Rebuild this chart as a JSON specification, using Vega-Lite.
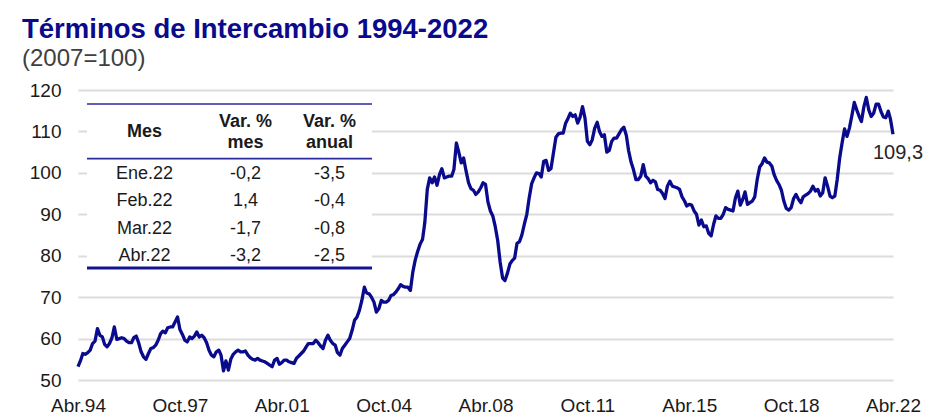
{
"$schema": "https://vega.github.io/schema/vega-lite/v6.json",
"width": 815,
"height": 290,
"autosize": "none",
"padding": {"left": 78, "top": 90, "right": 51, "bottom": 39},
"background": "white",
"config": {
  "view": {"stroke": null},
  "font": "Liberation Sans",
  "locale": {"number": {"decimal": ",", "thousands": ".", "grouping": [3], "currency": ["", " €"], "minus": "-"}}
},
"title": {
  "text": "Términos de Intercambio 1994-2022",
  "subtitle": "(2007=100)",
  "anchor": "start", "frame": "group", "dx": -56, "offset": 10,
  "font": "Liberation Sans", "fontSize": 27.5, "fontWeight": "bold", "color": "#0a0a8c",
  "subtitleFont": "Liberation Sans", "subtitleFontSize": 24, "subtitleColor": "#404040", "subtitlePadding": 4
},
"datasets": {
  "serie": [
{"fecha":"1994-04","valor":53.2},{"fecha":"1994-05","valor":54.6},{"fecha":"1994-06","valor":56.4},{"fecha":"1994-07","valor":56.2},{"fecha":"1994-08","valor":56.6},{"fecha":"1994-09","valor":57.2},{"fecha":"1994-10","valor":58.8},{"fecha":"1994-11","valor":59.4},{"fecha":"1994-12","valor":62.4},
{"fecha":"1995-01","valor":60.8},{"fecha":"1995-02","valor":60.4},{"fecha":"1995-03","valor":58.6},{"fecha":"1995-04","valor":58.0},{"fecha":"1995-05","valor":58.8},{"fecha":"1995-06","valor":60.2},{"fecha":"1995-07","valor":62.8},{"fecha":"1995-08","valor":59.8},{"fecha":"1995-09","valor":60.0},{"fecha":"1995-10","valor":60.2},{"fecha":"1995-11","valor":60.0},{"fecha":"1995-12","valor":59.4},
{"fecha":"1996-01","valor":59.0},{"fecha":"1996-02","valor":59.0},{"fecha":"1996-03","valor":60.2},{"fecha":"1996-04","valor":60.6},{"fecha":"1996-05","valor":59.0},{"fecha":"1996-06","valor":56.8},{"fecha":"1996-07","valor":55.6},{"fecha":"1996-08","valor":55.0},{"fecha":"1996-09","valor":56.4},{"fecha":"1996-10","valor":57.6},{"fecha":"1996-11","valor":57.8},{"fecha":"1996-12","valor":58.4},
{"fecha":"1997-01","valor":59.6},{"fecha":"1997-02","valor":61.2},{"fecha":"1997-03","valor":61.8},{"fecha":"1997-04","valor":61.4},{"fecha":"1997-05","valor":62.6},{"fecha":"1997-06","valor":62.8},{"fecha":"1997-07","valor":62.8},{"fecha":"1997-08","valor":64.0},{"fecha":"1997-09","valor":65.2},{"fecha":"1997-10","valor":62.2},{"fecha":"1997-11","valor":61.0},{"fecha":"1997-12","valor":59.6},
{"fecha":"1998-01","valor":59.2},{"fecha":"1998-02","valor":60.4},{"fecha":"1998-03","valor":60.0},{"fecha":"1998-04","valor":60.6},{"fecha":"1998-05","valor":61.6},{"fecha":"1998-06","valor":60.4},{"fecha":"1998-07","valor":60.8},{"fecha":"1998-08","valor":60.2},{"fecha":"1998-09","valor":59.0},{"fecha":"1998-10","valor":57.2},{"fecha":"1998-11","valor":56.0},{"fecha":"1998-12","valor":55.6},
{"fecha":"1999-01","valor":56.8},{"fecha":"1999-02","valor":57.2},{"fecha":"1999-03","valor":56.0},{"fecha":"1999-04","valor":52.2},{"fecha":"1999-05","valor":54.6},{"fecha":"1999-06","valor":52.4},{"fecha":"1999-07","valor":55.0},{"fecha":"1999-08","valor":56.2},{"fecha":"1999-09","valor":56.8},{"fecha":"1999-10","valor":57.2},{"fecha":"1999-11","valor":56.8},{"fecha":"1999-12","valor":56.8},
{"fecha":"2000-01","valor":57.0},{"fecha":"2000-02","valor":56.0},{"fecha":"2000-03","valor":55.4},{"fecha":"2000-04","valor":55.0},{"fecha":"2000-05","valor":54.8},{"fecha":"2000-06","valor":55.2},{"fecha":"2000-07","valor":54.8},{"fecha":"2000-08","valor":54.6},{"fecha":"2000-09","valor":54.4},{"fecha":"2000-10","valor":54.0},{"fecha":"2000-11","valor":53.6},{"fecha":"2000-12","valor":53.2},
{"fecha":"2001-01","valor":54.8},{"fecha":"2001-02","valor":55.2},{"fecha":"2001-03","valor":53.8},{"fecha":"2001-04","valor":54.2},{"fecha":"2001-05","valor":54.8},{"fecha":"2001-06","valor":54.8},{"fecha":"2001-07","valor":54.4},{"fecha":"2001-08","valor":54.2},{"fecha":"2001-09","valor":54.0},{"fecha":"2001-10","valor":55.2},{"fecha":"2001-11","valor":55.8},{"fecha":"2001-12","valor":56.4},
{"fecha":"2002-01","valor":57.0},{"fecha":"2002-02","valor":58.0},{"fecha":"2002-03","valor":58.8},{"fecha":"2002-04","valor":58.8},{"fecha":"2002-05","valor":58.8},{"fecha":"2002-06","valor":59.6},{"fecha":"2002-07","valor":59.0},{"fecha":"2002-08","valor":58.2},{"fecha":"2002-09","valor":57.6},{"fecha":"2002-10","valor":59.6},{"fecha":"2002-11","valor":60.8},{"fecha":"2002-12","valor":59.6},
{"fecha":"2003-01","valor":58.8},{"fecha":"2003-02","valor":58.4},{"fecha":"2003-03","valor":56.6},{"fecha":"2003-04","valor":56.0},{"fecha":"2003-05","valor":57.6},{"fecha":"2003-06","valor":58.4},{"fecha":"2003-07","valor":59.2},{"fecha":"2003-08","valor":60.0},{"fecha":"2003-09","valor":62.0},{"fecha":"2003-10","valor":64.4},{"fecha":"2003-11","valor":65.2},{"fecha":"2003-12","valor":66.8},
{"fecha":"2004-01","valor":69.2},{"fecha":"2004-02","valor":72.4},{"fecha":"2004-03","valor":71.0},{"fecha":"2004-04","valor":70.8},{"fecha":"2004-05","valor":70.0},{"fecha":"2004-06","valor":68.8},{"fecha":"2004-07","valor":66.4},{"fecha":"2004-08","valor":67.2},{"fecha":"2004-09","valor":69.2},{"fecha":"2004-10","valor":68.8},{"fecha":"2004-11","valor":68.8},{"fecha":"2004-12","valor":69.2},
{"fecha":"2005-01","valor":70.4},{"fecha":"2005-02","valor":70.6},{"fecha":"2005-03","valor":71.2},{"fecha":"2005-04","valor":72.0},{"fecha":"2005-05","valor":73.0},{"fecha":"2005-06","valor":72.6},{"fecha":"2005-07","valor":72.4},{"fecha":"2005-08","valor":72.4},{"fecha":"2005-09","valor":71.6},{"fecha":"2005-10","valor":76.0},{"fecha":"2005-11","valor":79.0},{"fecha":"2005-12","valor":81.0},
{"fecha":"2006-01","valor":82.8},{"fecha":"2006-02","valor":84.0},{"fecha":"2006-03","valor":88.0},{"fecha":"2006-04","valor":96.0},{"fecha":"2006-05","valor":98.8},{"fecha":"2006-06","valor":97.6},{"fecha":"2006-07","valor":99.0},{"fecha":"2006-08","valor":97.0},{"fecha":"2006-09","valor":99.6},{"fecha":"2006-10","valor":101.0},{"fecha":"2006-11","valor":98.8},{"fecha":"2006-12","valor":99.0},
{"fecha":"2007-01","valor":99.2},{"fecha":"2007-02","valor":99.2},{"fecha":"2007-03","valor":100.8},{"fecha":"2007-04","valor":107.2},{"fecha":"2007-05","valor":105.0},{"fecha":"2007-06","valor":102.4},{"fecha":"2007-07","valor":103.6},{"fecha":"2007-08","valor":100.4},{"fecha":"2007-09","valor":97.6},{"fecha":"2007-10","valor":96.2},{"fecha":"2007-11","valor":95.8},{"fecha":"2007-12","valor":94.8},
{"fecha":"2008-01","valor":95.4},{"fecha":"2008-02","valor":96.4},{"fecha":"2008-03","valor":97.6},{"fecha":"2008-04","valor":97.2},{"fecha":"2008-05","valor":93.0},{"fecha":"2008-06","valor":90.8},{"fecha":"2008-07","valor":89.6},{"fecha":"2008-08","valor":87.0},{"fecha":"2008-09","valor":83.6},{"fecha":"2008-10","valor":78.5},{"fecha":"2008-11","valor":74.6},{"fecha":"2008-12","valor":74.0},
{"fecha":"2009-01","valor":75.8},{"fecha":"2009-02","valor":78.0},{"fecha":"2009-03","valor":78.8},{"fecha":"2009-04","valor":79.4},{"fecha":"2009-05","valor":83.0},{"fecha":"2009-06","valor":83.4},{"fecha":"2009-07","valor":85.0},{"fecha":"2009-08","valor":87.6},{"fecha":"2009-09","valor":90.0},{"fecha":"2009-10","valor":94.0},{"fecha":"2009-11","valor":97.4},{"fecha":"2009-12","valor":98.8},
{"fecha":"2010-01","valor":100.0},{"fecha":"2010-02","valor":99.8},{"fecha":"2010-03","valor":99.0},{"fecha":"2010-04","valor":102.8},{"fecha":"2010-05","valor":103.0},{"fecha":"2010-06","valor":100.6},{"fecha":"2010-07","valor":101.0},{"fecha":"2010-08","valor":104.8},{"fecha":"2010-09","valor":108.6},{"fecha":"2010-10","valor":109.4},{"fecha":"2010-11","valor":109.6},{"fecha":"2010-12","valor":109.6},
{"fecha":"2011-01","valor":112.0},{"fecha":"2011-02","valor":113.2},{"fecha":"2011-03","valor":114.4},{"fecha":"2011-04","valor":113.6},{"fecha":"2011-05","valor":114.0},{"fecha":"2011-06","valor":112.0},{"fecha":"2011-07","valor":113.4},{"fecha":"2011-08","valor":116.0},{"fecha":"2011-09","valor":113.2},{"fecha":"2011-10","valor":107.6},{"fecha":"2011-11","valor":106.8},{"fecha":"2011-12","valor":108.0},
{"fecha":"2012-01","valor":110.8},{"fecha":"2012-02","valor":112.2},{"fecha":"2012-03","valor":110.0},{"fecha":"2012-04","valor":108.8},{"fecha":"2012-05","valor":109.2},{"fecha":"2012-06","valor":105.0},{"fecha":"2012-07","valor":105.4},{"fecha":"2012-08","valor":107.6},{"fecha":"2012-09","valor":108.4},{"fecha":"2012-10","valor":108.4},{"fecha":"2012-11","valor":109.4},{"fecha":"2012-12","valor":110.4},
{"fecha":"2013-01","valor":111.0},{"fecha":"2013-02","valor":109.0},{"fecha":"2013-03","valor":105.4},{"fecha":"2013-04","valor":102.6},{"fecha":"2013-05","valor":100.8},{"fecha":"2013-06","valor":98.4},{"fecha":"2013-07","valor":98.4},{"fecha":"2013-08","valor":99.2},{"fecha":"2013-09","valor":102.0},{"fecha":"2013-10","valor":99.2},{"fecha":"2013-11","valor":98.6},{"fecha":"2013-12","valor":97.6},
{"fecha":"2014-01","valor":98.2},{"fecha":"2014-02","valor":97.8},{"fecha":"2014-03","valor":96.0},{"fecha":"2014-04","valor":95.8},{"fecha":"2014-05","valor":95.0},{"fecha":"2014-06","valor":93.8},{"fecha":"2014-07","valor":96.8},{"fecha":"2014-08","valor":98.0},{"fecha":"2014-09","valor":96.8},{"fecha":"2014-10","valor":96.6},{"fecha":"2014-11","valor":96.4},{"fecha":"2014-12","valor":96.0},
{"fecha":"2015-01","valor":94.2},{"fecha":"2015-02","valor":93.2},{"fecha":"2015-03","valor":92.0},{"fecha":"2015-04","valor":92.4},{"fecha":"2015-05","valor":92.2},{"fecha":"2015-06","valor":90.8},{"fecha":"2015-07","valor":90.0},{"fecha":"2015-08","valor":87.4},{"fecha":"2015-09","valor":88.6},{"fecha":"2015-10","valor":87.0},{"fecha":"2015-11","valor":87.2},{"fecha":"2015-12","valor":85.4},
{"fecha":"2016-01","valor":84.8},{"fecha":"2016-02","valor":87.6},{"fecha":"2016-03","valor":89.6},{"fecha":"2016-04","valor":89.0},{"fecha":"2016-05","valor":89.0},{"fecha":"2016-06","valor":90.0},{"fecha":"2016-07","valor":91.6},{"fecha":"2016-08","valor":91.2},{"fecha":"2016-09","valor":91.0},{"fecha":"2016-10","valor":90.8},{"fecha":"2016-11","valor":94.0},{"fecha":"2016-12","valor":95.6},
{"fecha":"2017-01","valor":92.2},{"fecha":"2017-02","valor":93.6},{"fecha":"2017-03","valor":95.4},{"fecha":"2017-04","valor":92.4},{"fecha":"2017-05","valor":92.8},{"fecha":"2017-06","valor":93.2},{"fecha":"2017-07","valor":94.2},{"fecha":"2017-08","valor":98.4},{"fecha":"2017-09","valor":101.4},{"fecha":"2017-10","valor":102.2},{"fecha":"2017-11","valor":103.6},{"fecha":"2017-12","valor":102.6},
{"fecha":"2018-01","valor":102.4},{"fecha":"2018-02","valor":101.6},{"fecha":"2018-03","valor":99.6},{"fecha":"2018-04","valor":98.2},{"fecha":"2018-05","valor":97.2},{"fecha":"2018-06","valor":95.8},{"fecha":"2018-07","valor":93.2},{"fecha":"2018-08","valor":91.4},{"fecha":"2018-09","valor":91.0},{"fecha":"2018-10","valor":91.6},{"fecha":"2018-11","valor":93.8},{"fecha":"2018-12","valor":94.8},
{"fecha":"2019-01","valor":93.6},{"fecha":"2019-02","valor":92.8},{"fecha":"2019-03","valor":94.2},{"fecha":"2019-04","valor":94.6},{"fecha":"2019-05","valor":95.0},{"fecha":"2019-06","valor":95.6},{"fecha":"2019-07","valor":96.8},{"fecha":"2019-08","valor":95.6},{"fecha":"2019-09","valor":96.0},{"fecha":"2019-10","valor":94.4},{"fecha":"2019-11","valor":95.2},{"fecha":"2019-12","valor":98.8},
{"fecha":"2020-01","valor":96.8},{"fecha":"2020-02","valor":94.4},{"fecha":"2020-03","valor":94.0},{"fecha":"2020-04","valor":94.4},{"fecha":"2020-05","valor":98.4},{"fecha":"2020-06","valor":103.6},{"fecha":"2020-07","valor":107.2},{"fecha":"2020-08","valor":110.6},{"fecha":"2020-09","valor":108.8},{"fecha":"2020-10","valor":110.8},{"fecha":"2020-11","valor":113.8},{"fecha":"2020-12","valor":117.0},
{"fecha":"2021-01","valor":115.2},{"fecha":"2021-02","valor":113.6},{"fecha":"2021-03","valor":112.4},{"fecha":"2021-04","valor":116.0},{"fecha":"2021-05","valor":118.2},{"fecha":"2021-06","valor":115.2},{"fecha":"2021-07","valor":113.6},{"fecha":"2021-08","valor":114.4},{"fecha":"2021-09","valor":116.6},{"fecha":"2021-10","valor":116.6},{"fecha":"2021-11","valor":114.8},{"fecha":"2021-12","valor":113.5},
{"fecha":"2022-01","valor":113.3},{"fecha":"2022-02","valor":114.9},{"fecha":"2022-03","valor":112.9},{"fecha":"2022-04","valor":109.3}
  ],
  "tabla": [
    {"mes": "Ene.22", "var_mes": -0.2, "var_anual": -3.5},
    {"mes": "Feb.22", "var_mes": 1.4, "var_anual": -0.4},
    {"mes": "Mar.22", "var_mes": -1.7, "var_anual": -0.8},
    {"mes": "Abr.22", "var_mes": -3.2, "var_anual": -2.5}
  ],
  "encabezado": [
    {"columna": "Mes", "titulo": "Mes"},
    {"columna": "Var. % mes", "titulo": ["Var. %", "mes"]},
    {"columna": "Var. % anual", "titulo": ["Var. %", "anual"]}
  ]
},
"layer": [
  {
    "data": {"name": "serie"},
    "layer": [
      {
        "mark": {"type": "line", "color": "#0a0a8c", "strokeWidth": 3.3, "strokeJoin": "round"},
        "encoding": {
          "x": {"field": "fecha", "type": "temporal",
            "scale": {"type": "utc", "domain": [{"year": 1994, "month": 4, "date": 1, "utc": true}, {"year": 2022, "month": 4, "date": 1, "utc": true}]},
            "axis": {"title": null,
              "values": [{"year": 1994, "month": 4, "date": 1, "utc": true}, {"year": 1997, "month": 10, "date": 1, "utc": true}, {"year": 2001, "month": 4, "date": 1, "utc": true}, {"year": 2004, "month": 10, "date": 1, "utc": true}, {"year": 2008, "month": 4, "date": 1, "utc": true}, {"year": 2011, "month": 10, "date": 1, "utc": true}, {"year": 2015, "month": 4, "date": 1, "utc": true}, {"year": 2018, "month": 10, "date": 1, "utc": true}, {"year": 2022, "month": 4, "date": 1, "utc": true}],
              "labelExpr": "(utcmonth(datum.value) == 3 ? 'Abr.' : 'Oct.') + utcFormat(datum.value, '%y')",
              "grid": false, "domain": false, "ticks": false, "labelFontSize": 19, "labelPadding": 16, "labelColor": "#1a1a1a", "labelFlush": false, "labelOverlap": false}},
          "y": {"field": "valor", "type": "quantitative",
            "scale": {"domain": [50, 120], "nice": false, "zero": false},
            "axis": {"title": null, "values": [50, 60, 70, 80, 90, 100, 110, 120], "grid": true, "gridColor": "#dcdcdc", "gridWidth": 2, "domain": false, "ticks": false, "labelFontSize": 19, "labelPadding": 17, "labelColor": "#1a1a1a"}}
        }
      },
      {
        "transform": [{"filter": "utcyear(toDate(datum.fecha)) == 2022 && utcmonth(toDate(datum.fecha)) == 3"}],
        "mark": {"type": "text", "align": "center", "baseline": "middle", "dx": 5, "dy": 19, "fontSize": 20, "color": "#262626"},
        "encoding": {
          "x": {"field": "fecha", "type": "temporal"},
          "y": {"field": "valor", "type": "quantitative"},
          "text": {"field": "valor", "type": "quantitative", "format": ".1f"}
        }
      }
    ]
  },
  {
    "layer": [
      {
        "data": {"values": [{}]},
        "mark": {"type": "rect", "fill": "white"},
        "encoding": {
          "x": {"datum": "Mes", "type": "nominal", "bandPosition": 0,
            "scale": {"type": "band", "domain": ["Mes", "Var. % mes", "Var. % anual"], "range": [9, 294], "paddingInner": 0, "paddingOuter": 0}, "axis": null},
          "x2": {"datum": "Var. % anual", "bandPosition": 1},
          "y": {"datum": "Encabezado 1", "type": "nominal", "bandPosition": 0,
            "scale": {"type": "band", "domain": ["Encabezado 1", "Encabezado 2", "Ene.22", "Feb.22", "Mar.22", "Abr.22"], "range": [14, 178], "paddingInner": 0, "paddingOuter": 0}, "axis": null},
          "y2": {"datum": "Abr.22", "bandPosition": 1}
        }
      },
      {
        "data": {"values": [{}]},
        "mark": {"type": "rule", "color": "#2a2a9c", "strokeWidth": 1.6},
        "encoding": {
          "x": {"datum": "Mes", "type": "nominal", "bandPosition": 0},
          "x2": {"datum": "Var. % anual", "bandPosition": 1},
          "y": {"datum": "Encabezado 1", "type": "nominal", "bandPosition": 0}
        }
      },
      {
        "data": {"values": [{}]},
        "mark": {"type": "rule", "color": "#2a2a9c", "strokeWidth": 1.6},
        "encoding": {
          "x": {"datum": "Mes", "type": "nominal", "bandPosition": 0},
          "x2": {"datum": "Var. % anual", "bandPosition": 1},
          "y": {"datum": "Ene.22", "type": "nominal", "bandPosition": 0}
        }
      },
      {
        "data": {"values": [{}]},
        "mark": {"type": "rule", "color": "#14148f", "strokeWidth": 3.2},
        "encoding": {
          "x": {"datum": "Mes", "type": "nominal", "bandPosition": 0},
          "x2": {"datum": "Var. % anual", "bandPosition": 1},
          "y": {"datum": "Abr.22", "type": "nominal", "bandPosition": 1}
        }
      },
      {
        "data": {"name": "encabezado"},
        "transform": [{"filter": "datum.columna == 'Mes'"}],
        "mark": {"type": "text", "fontWeight": "bold", "fontSize": 18, "color": "#1a1a1a", "baseline": "middle", "lineHeight": 21, "dx": 10, "dy": 1},
        "encoding": {
          "x": {"field": "columna", "type": "nominal"},
          "y": {"datum": "Encabezado 1", "type": "nominal", "bandPosition": 1},
          "text": {"field": "titulo", "type": "nominal"}
        }
      },
      {
        "data": {"name": "encabezado"},
        "transform": [{"filter": "datum.columna == 'Var. % mes'"}],
        "mark": {"type": "text", "fontWeight": "bold", "fontSize": 18, "color": "#1a1a1a", "baseline": "middle", "lineHeight": 21, "dx": 16, "dy": -9.5},
        "encoding": {
          "x": {"field": "columna", "type": "nominal"},
          "y": {"datum": "Encabezado 1", "type": "nominal", "bandPosition": 1},
          "text": {"field": "titulo", "type": "nominal"}
        }
      },
      {
        "data": {"name": "encabezado"},
        "transform": [{"filter": "datum.columna == 'Var. % anual'"}],
        "mark": {"type": "text", "fontWeight": "bold", "fontSize": 18, "color": "#1a1a1a", "baseline": "middle", "lineHeight": 21, "dx": 5, "dy": -9.5},
        "encoding": {
          "x": {"field": "columna", "type": "nominal"},
          "y": {"datum": "Encabezado 1", "type": "nominal", "bandPosition": 1},
          "text": {"field": "titulo", "type": "nominal"}
        }
      },
      {
        "data": {"name": "tabla"},
        "mark": {"type": "text", "fontSize": 18, "color": "#1a1a1a", "baseline": "middle", "dx": 10, "dy": 1.5},
        "encoding": {
          "x": {"datum": "Mes", "type": "nominal"},
          "y": {"field": "mes", "type": "nominal"},
          "text": {"field": "mes", "type": "nominal"}
        }
      },
      {
        "data": {"name": "tabla"},
        "mark": {"type": "text", "fontSize": 18, "color": "#1a1a1a", "baseline": "middle", "dx": 16, "dy": 1.5},
        "encoding": {
          "x": {"datum": "Var. % mes", "type": "nominal"},
          "y": {"field": "mes", "type": "nominal"},
          "text": {"field": "var_mes", "type": "quantitative", "format": ".1f"}
        }
      },
      {
        "data": {"name": "tabla"},
        "mark": {"type": "text", "fontSize": 18, "color": "#1a1a1a", "baseline": "middle", "dx": 5, "dy": 1.5},
        "encoding": {
          "x": {"datum": "Var. % anual", "type": "nominal"},
          "y": {"field": "mes", "type": "nominal"},
          "text": {"field": "var_anual", "type": "quantitative", "format": ".1f"}
        }
      }
    ]
  }
],
"resolve": {"scale": {"x": "independent", "y": "independent"}}
}
